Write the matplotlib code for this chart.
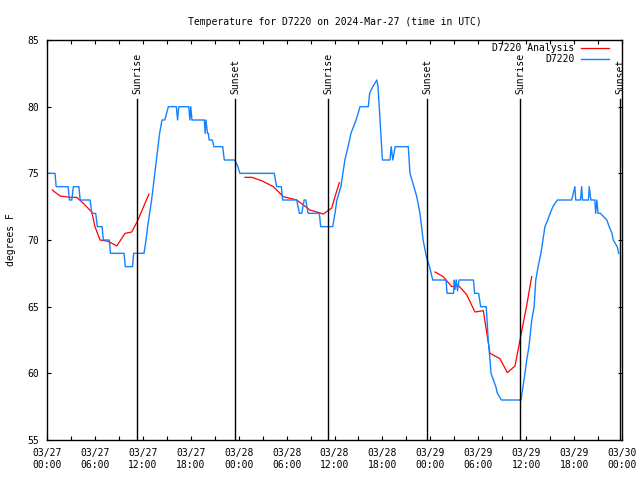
import matplotlib
matplotlib.use("Agg")
import matplotlib.pyplot as plt
from matplotlib.ticker import MultipleLocator, FixedLocator

plt.rcParams['font.family'] = ['DejaVu Sans Mono']

# Observed temperatures (hours since 2024-03-27 00:00 UTC, degrees F)
obs_hours = [0, 1.0, 1.15, 2.65, 2.8, 3.1, 3.3, 4.0, 4.15, 5.4, 5.6, 6.1, 6.3, 6.9, 7.05, 7.8, 7.95, 9.65, 9.8,
             10.7, 10.85, 12.15, 12.4, 12.6, 12.85, 13.1, 13.3, 13.5, 13.7, 13.9, 14.1, 14.4, 14.75, 15.2,
             16.2, 16.35, 16.5, 17.75, 17.9, 18.0, 18.15, 18.4, 19.7, 19.8, 19.9, 20.1, 20.2, 20.3, 20.7, 20.9,
             22.0, 22.2, 23.5, 23.9, 24.15, 28.46, 28.75, 29.35, 29.5, 31.27, 31.6, 31.9, 32.2, 32.4, 32.7,
             34.1, 34.27, 35.77, 36.06, 36.3, 36.8, 37.05, 37.3, 37.7, 38.06, 38.7, 39.2, 40.23, 40.4, 40.8,
             41.3, 41.45, 41.7, 42.0, 42.95, 43.1, 43.3, 43.6, 45.24, 45.45, 45.7, 46.3, 46.7, 47.1, 47.5,
             47.9, 48.3, 49.96, 50.1, 50.9, 51.0, 51.1, 51.25, 51.4, 51.6, 53.4, 53.55, 54.05, 54.3, 55.0,
             55.1, 55.25, 55.4, 55.6, 55.9, 56.2, 56.4, 56.9, 59.35, 59.6, 59.85, 60.07, 60.35, 60.7, 61.0,
             61.2, 61.5, 61.85, 62.35, 62.7, 63.0, 63.35, 63.9, 65.7, 66.1, 66.2, 66.8, 66.95, 67.05, 67.8,
             67.9, 68.1, 68.6, 68.7, 68.85, 69.0, 69.3, 70.1, 70.4, 70.75, 70.9, 71.4, 71.6]
obs_temps = [75, 75, 74, 74, 73, 73, 74, 74, 73, 73, 72, 72, 71, 71, 70, 70, 69, 69, 68,
             68, 69, 69, 70, 71, 72, 73, 74, 75, 76, 77, 78, 79, 79, 80,
             80, 79, 80, 80, 79, 80, 79, 79, 79, 78, 79, 78, 78, 77.5, 77.5, 77,
             77, 76, 76, 75.5, 75, 75, 74, 74, 73, 73, 72, 72, 73, 73, 72,
             72, 71, 71, 72, 73, 74, 75, 76, 77, 78, 79, 80, 80, 81, 81.5,
             82, 81.5, 79, 76, 76, 77, 76, 77, 77, 75, 74.5, 73.25, 72, 70, 68.75,
             68, 67, 67, 66, 66, 67, 66.3, 67, 66.2, 67, 67, 66, 66, 65, 65,
             64, 62.5, 61.5, 60, 59.5, 59, 58.5, 58, 58, 59, 60, 61, 62, 64, 65,
             67, 68, 69, 71, 71.5, 72, 72.5, 73, 73, 74, 73, 73, 74, 73, 73,
             74, 73, 73, 72, 73, 72, 72, 71.5, 71, 70.5, 70, 69.5, 69]

# Analysis segments
ana1_hours = [0.66, 1.63, 2.88, 3.72, 4.55, 5.6, 6.01, 6.64, 7.68, 8.73, 9.77, 10.61, 11.31, 12.27, 12.77]
ana1_temps = [73.75, 73.3, 73.2, 73.2, 72.75, 72.1, 71.0, 70.0, 69.9, 69.55, 70.5, 70.6, 71.4, 72.75, 73.45]
ana2_hours = [24.79, 25.63, 26.88, 28.34, 29.59, 31.27, 32.93, 34.6, 35.65, 36.06, 36.6]
ana2_temps = [74.7, 74.7, 74.45, 74.0, 73.25, 73.0, 72.25, 71.95, 72.4, 73.25, 74.3]
ana3_hours = [48.59, 49.62, 50.68, 51.5, 52.55, 53.59, 54.63, 55.47, 56.72, 57.64, 58.6, 59.23, 60.07, 60.69]
ana3_temps = [67.6, 67.25, 66.5, 66.6, 65.9, 64.6, 64.7, 61.5, 61.1, 60.05, 60.55, 62.5, 65.1, 67.25]

event_hours = [11.27, 23.54, 35.19, 47.58, 59.23, 71.75]
event_labels = ["Sunrise", "Sunset", "Sunrise", "Sunset", "Sunrise", "Sunset"]

tick_hours = [0, 6, 12, 18, 24, 30, 36, 42, 48, 54, 60, 66, 72]
tick_labels = ["03/27\n00:00", "03/27\n06:00", "03/27\n12:00", "03/27\n18:00",
               "03/28\n00:00", "03/28\n06:00", "03/28\n12:00", "03/28\n18:00",
               "03/29\n00:00", "03/29\n06:00", "03/29\n12:00", "03/29\n18:00",
               "03/30\n00:00"]

fig = plt.figure(figsize=(6.4, 4.8), dpi=100)
ax = fig.add_axes([47/640, 40/480, 575/640, 400/480])

red = '#ff0000'
blue = '#1482ff'

ax.plot(ana1_hours, ana1_temps, color=red, lw=0.9, label='D7220 Analysis')
ax.plot(ana2_hours, ana2_temps, color=red, lw=0.9)
ax.plot(ana3_hours, ana3_temps, color=red, lw=0.9)
ax.plot(obs_hours, obs_temps, color=blue, lw=1.0, label='D7220')

for h, lab in zip(event_hours, event_labels):
    ax.axvline(h, ymin=0, ymax=0.8525, color='black', lw=1.0)
    ax.text(h, 0.865, lab, transform=ax.get_xaxis_transform(), rotation=90,
            ha='center', va='bottom', fontsize=7)

ax.set_xlim(0, 72)
ax.set_ylim(55, 85)
ax.xaxis.set_major_locator(FixedLocator(tick_hours))
ax.set_xticklabels(tick_labels, fontsize=7)
ax.xaxis.set_minor_locator(MultipleLocator(3))
ax.yaxis.set_major_locator(MultipleLocator(5))
ax.tick_params(axis='both', which='both', direction='in', top=True, right=True,
               length=3, width=0.8, labelsize=7)
ax.tick_params(axis='x', which='major', pad=6)
ax.tick_params(axis='y', which='major', pad=6)
for s in ax.spines.values():
    s.set_linewidth(1.0)

ax.set_ylabel('degrees F', fontsize=7)
ax.yaxis.set_label_coords(-0.054, 0.5)
ax.set_title('Temperature for D7220 on 2024-Mar-27 (time in UTC)', fontsize=7, pad=11)

leg = ax.legend(loc='upper right', bbox_to_anchor=(0.982, 1.0), frameon=False, fontsize=7,
                markerfirst=False, handlelength=2.9, handletextpad=0.6, labelspacing=0.15,
                borderaxespad=0.0, borderpad=0.3)

fig.savefig('out.png', dpi=100)
